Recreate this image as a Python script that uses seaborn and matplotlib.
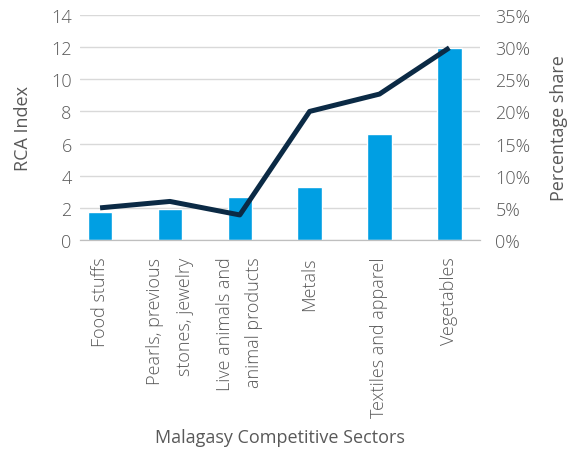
import matplotlib
matplotlib.use("Agg")
import matplotlib.pyplot as plt
from matplotlib.ticker import PercentFormatter
import seaborn as sns

# data
sectors = ["Food stuffs", "Pearls, previous\nstones, jewelry", "Live animals and\nanimal products",
           "Metals", "Textiles and apparel", "Vegetables"]
rca_index = [1.76, 1.93, 2.68, 3.3, 6.6, 11.95]
pct_share = [5.0, 6.0, 3.9, 20.0, 22.7, 29.9]

BAR_COLOR = "#009fe3"
LINE_COLOR = "#0b2a45"
TEXT_COLOR = "#595959"
FS = 13

sns.set_style("white")
plt.rcParams["font.family"] = ["Open Sans", "DejaVu Sans"]
plt.rcParams["font.weight"] = "light"

fig = plt.figure(figsize=(5.7, 4.52), dpi=100)
ax1 = fig.add_axes([0.1404, 0.4668, 0.7018, 0.4978])

sns.barplot(x=sectors, y=rca_index, color=BAR_COLOR, width=0.35, saturation=1, ax=ax1, zorder=2)
ax2 = ax1.twinx()
sns.pointplot(x=sectors, y=pct_share, color=LINE_COLOR, markers="", linewidth=3.6, ax=ax2)
for ln in ax2.lines:
    ln.set_solid_capstyle("butt")

# left axis
ax1.set_ylim(0, 14)
ax1.set_yticks(range(0, 15, 2))
ax1.grid(axis="y", color="#d9d9d9", linewidth=1.0, zorder=0)
ax1.set_axisbelow(True)
ax1.set_ylabel("RCA Index", color=TEXT_COLOR, fontsize=FS, labelpad=14)
ax1.set_xlabel("Malagasy Competitive Sectors", color=TEXT_COLOR, fontsize=FS, labelpad=8)

# right axis
ax2.set_ylim(0, 35)
ax2.set_yticks(range(0, 36, 5))
ax2.yaxis.set_major_formatter(PercentFormatter(decimals=0))
ax2.set_ylabel("Percentage share", color=TEXT_COLOR, fontsize=FS, labelpad=14)

ax1.set_xlim(-0.287, 5.44)

for ax in (ax1, ax2):
    for side in ("top", "left", "right"):
        ax.spines[side].set_visible(False)
    ax.spines["bottom"].set_color("#bfbfbf")
    ax.tick_params(axis="both", length=0, colors=TEXT_COLOR, labelsize=FS)
ax1.tick_params(axis="y", pad=6)
ax2.tick_params(axis="y", pad=11)

ax1.set_xticks(range(len(sectors)))
ax1.set_xticklabels(sectors, rotation=90, ha="center", va="top",
                    multialignment="right", linespacing=1.8)
ax1.tick_params(axis="x", pad=12)
ax2.tick_params(axis="x", labelbottom=False)

fig.savefig("out.png", dpi=100)
